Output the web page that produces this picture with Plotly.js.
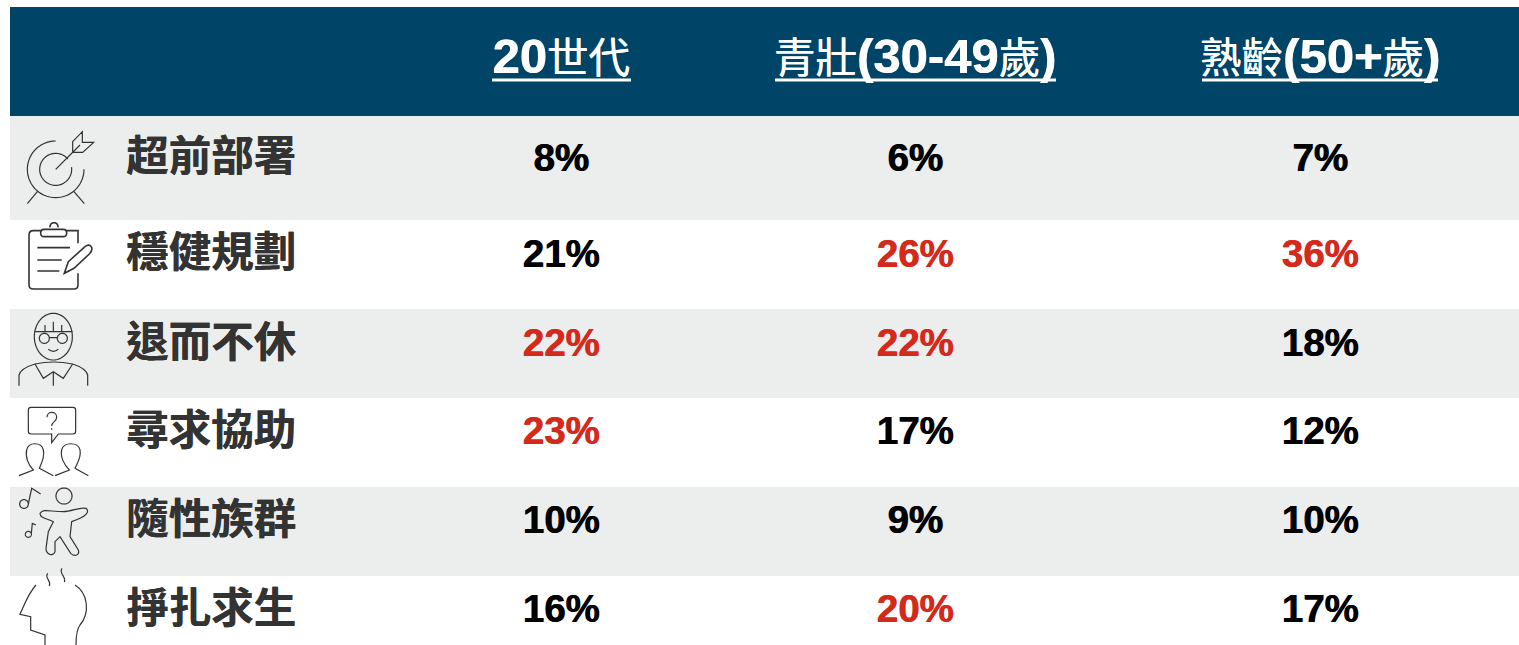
<!DOCTYPE html>
<html><head><meta charset="utf-8">
<script src="https://cdn.plot.ly/plotly-3.0.1.min.js"></script>
<style>html,body{margin:0;padding:0;background:#fff;overflow:hidden}#c{width:1519px;height:645px}</style>
</head><body><div id="c"></div>
<script>
// ---- data ----
const segments = ['超前部署','穩健規劃','退而不休','尋求協助','隨性族群','掙扎求生'];
const gen20 = [8,21,22,23,10,16];
const midAge = [6,26,22,17,9,20];
const senior = [7,36,18,12,10,17];
const gen20Top = [false,false,true,true,false,false];
const midAgeTop = [false,true,true,false,false,true];
const seniorTop = [false,true,false,false,false,false];
const LAT = "'Liberation Sans',Arial,sans-serif", CJK = "'Noto Sans CJK TC',sans-serif";
const hdr = (lat1,cjk1,lat2,cjk2,lat3)=>{
  const L=t=>t?`<span style="font-family:${LAT};font-size:49px;font-weight:700;text-shadow:0.7px 0 0 #fff">${t}</span>`:'';
  const C=t=>t?`<span style="font-family:${CJK};font-size:41.5px;font-weight:400;text-shadow:0.5px 0 0 #fff">${t}</span>`:'';
  return L(lat1)+C(cjk1)+L(lat2)+C(cjk2)+L(lat3);
};
const headers = [hdr('20','世代'), hdr('','青壯','(30-49','歲',')'), hdr('','熟齡','(50+','歲',')')];

// ---- layout constants (page pixels) ----
const rowY = [161,257,346,434,523,612];
const labelY = [160.5,256.5,346.5,434.5,523.5,612.5];
const colX = [561,915,1320];
const headerY = 61;
const bands = [[116,220],[309,398],[487,576]];
const underlines = [[492,631],[775,1056],[1202,1438]];
const INK='#333333', RED='#D42A1C', NAVY='#004567', GREY='#ECEEED';

// icon outlines, written in the coordinates of a 3x crop and scaled down
function z(ox,oy,d){
  return d.replace(/(-?[\d.]+)[ ,](-?[\d.]+)/g,(m,a,b)=>(ox+a/3).toFixed(2)+','+(oy+b/3).toFixed(2));
}
function arc(cx,cy,rx,ry,a0,a1){
  const n=Math.max(8,Math.ceil(Math.abs(a1-a0)/6));let s='';
  for(let i=0;i<=n;i++){const a=(a0+(a1-a0)*i/n)*Math.PI/180;
    s+=(i?'L':'M')+(cx+rx*Math.cos(a)).toFixed(1)+' '+(cy+ry*Math.sin(a)).toFixed(1);}
  return s;
}
const c=(x,y,r)=>arc(x,y,r,r,0,360)+'Z';
const icons=[
 {o:[0,110],w:1.2,d:arc(167,178,85,85,-90,-360)+arc(167,178,48,48,-40,-368)+
   'M167 178L240 105 M218 95L247 65L247 97L281 97L248 127L218 127Z M112 245L82 281 M222 245L253 281'},
 {o:[0,110],w:1.6,d:'M122 362L100 362Q87 362 87 375L87 524Q87 537 100 537L222 537Q234 537 234 524L234 490 M200 362L234 362L234 400'+
   'M132 358L190 358Q200 358 200 369Q200 380 190 380L132 380Q122 380 122 369Q122 358 132 358'+arc(162,350,12,12,170,370)+
   'M112 413L210 413 M112 450L185 450 M112 483L178 483'+
   'M193 490L205 455L255 410Q268 400 275 412Q278 422 268 432L222 475Z'},
 {o:[0,300],w:1.2,d:arc(160,110,57,70,0,360)+'Z M103 95L218 95 M135 75L135 95 M160 65L160 95 M185 75L185 95'+
   c(133,115,15)+c(187,115,15)+'M148 113L172 113 M145 148Q160 160 175 148'+
   'M57 257L57 225Q62 205 105 192Q160 180 218 192Q258 205 263 225L263 257'+
   'M105 192L130 235L160 215L190 235L218 192 M160 215L160 257'},
 {o:[0,300],w:1.2,d:'M93 322L219 322Q227 322 227 330L227 394Q227 402 219 402L175 402L155 428L155 402L93 402Q85 402 85 394L85 330Q85 322 93 322Z'+
   'M141 352C141 332 170 332 170 352C170 365 155 365 155 378 M155 385L155 389'+
   'M57 527L100 510C85 495 75 470 80 450C85 425 125 425 130 450C135 470 125 490 118 505L160 527'+
   'M165 527L208 510C193 495 180 470 185 450C190 425 235 425 240 450C245 470 232 490 225 505L265 527'},
 {o:[0,480],w:1.2,d:c(192,48,24)+c(72,72,13)+'M85 72L95 25L122 42'+c(85,163,9)+'M94 160L97 130L108 135'+
   'M120 100C130 85 150 95 190 95C215 95 240 80 258 85C270 95 260 110 215 125L210 170L235 210C240 225 225 232 212 220L180 170L165 185L165 215C160 230 138 225 138 205L145 155L160 125C140 115 120 115 120 100Z'},
 {o:[0,480],w:1.2,d:'M108 315C85 340 75 370 60 403L92 410L92 450L135 465L135 495 M225 315C265 340 270 400 240 435Q228 450 228 495'+
   'M143 280C132 295 155 300 148 318 M186 265C175 280 200 290 193 306'}
];

const shapes=[];
const rect=(x0,y0,x1,y1,col)=>shapes.push({type:'rect',xref:'x',yref:'y',x0,y0,x1,y1,fillcolor:col,line:{width:0},layer:'below'});
rect(10,7,1519,116,NAVY);
bands.forEach(b=>rect(10,b[0],1519,b[1],GREY));
underlines.forEach(u=>shapes.push({type:'line',xref:'x',yref:'y',x0:u[0],x1:u[1],y0:80,y1:80,line:{color:'#fff',width:3}}));
icons.forEach(ic=>shapes.push({type:'path',xref:'x',yref:'y',path:z(ic.o[0],ic.o[1],ic.d),line:{color:INK,width:ic.w},fillcolor:'rgba(0,0,0,0)'}));

const valueTrace=(name,vals,tops,x)=>({
  type:'scatter',mode:'text',name,x:vals.map(()=>x),y:rowY,text:vals.map(v=>v+'%'),
  textposition:'middle center',hoverinfo:'skip',cliponaxis:false,
  textfont:{family:LAT,size:38.5,weight:700,color:tops.map(t=>t?RED:'#000'),
    shadow:tops.map(t=>t?'0.8px 0 0 '+RED:'0.8px 0 0 #000')}
});
const traces=[
 {type:'scatter',mode:'text',x:colX,y:colX.map(()=>headerY),text:headers,textposition:'middle center',hoverinfo:'skip',
  cliponaxis:false,textfont:{family:LAT,size:49,color:'#fff'}},
 {type:'scatter',mode:'text',x:segments.map(()=>126),y:labelY,text:segments,textposition:'middle right',hoverinfo:'skip',
  cliponaxis:false,textfont:{family:CJK,size:42.5,weight:700,color:INK,shadow:'0.6px 0 0 '+INK}},
 valueTrace('20世代',gen20,gen20Top,colX[0]),
 valueTrace('青壯(30-49歲)',midAge,midAgeTop,colX[1]),
 valueTrace('熟齡(50+歲)',senior,seniorTop,colX[2])
];
Plotly.newPlot('c',traces,{
  width:1519,height:645,margin:{l:0,r:0,t:0,b:0},showlegend:false,
  paper_bgcolor:'#fff',plot_bgcolor:'#fff',
  xaxis:{range:[0,1519],visible:false,fixedrange:true},
  yaxis:{range:[645,0],visible:false,fixedrange:true},
  shapes
},{displayModeBar:false,staticPlot:true});
</script></body></html>
